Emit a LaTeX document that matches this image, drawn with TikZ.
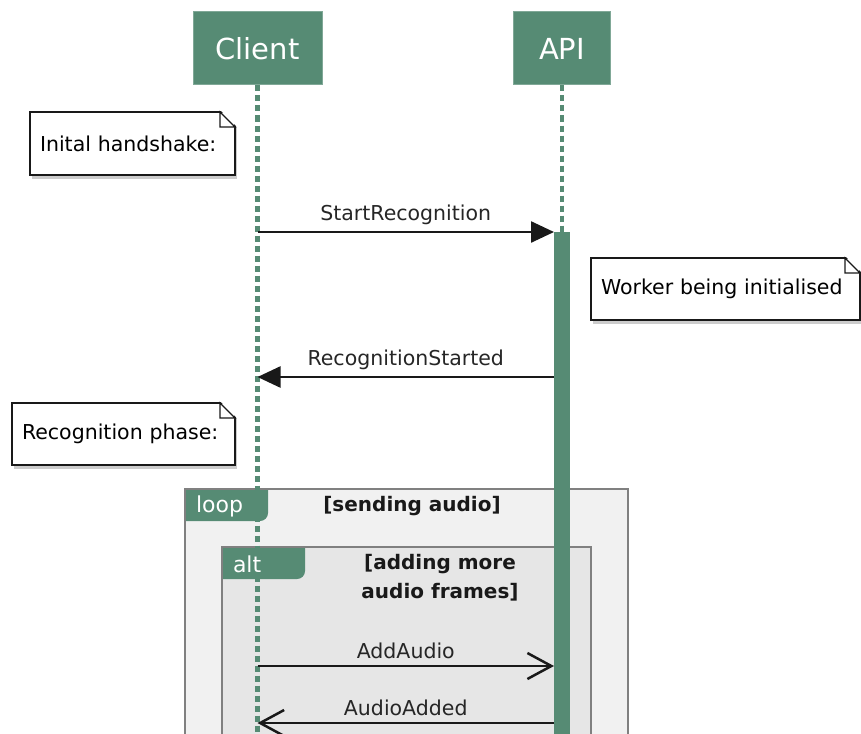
\documentclass[tikz,border=0pt]{standalone}
\usepackage{fontspec}
\setmainfont{DejaVu Sans}
\usetikzlibrary{arrows.meta,shadows}
\definecolor{seqgreen}{RGB}{86,139,116}
\definecolor{framegray}{RGB}{128,128,128}
\definecolor{loopfill}{RGB}{241,241,241}
\definecolor{altfill}{RGB}{230,230,230}
\tikzset{
  actor/.style={fill=seqgreen, draw=seqgreen!75!white, line width=1pt, text=white, font=\fontsize{29}{34}\selectfont, inner sep=0pt},
  lifeline/.style={seqgreen, line width=4.5pt, dash pattern=on 6pt off 4pt},
  note/.style={draw=black!90, fill=white, line width=1.5pt, outer sep=0pt, font=\fontsize{20.5}{24}\selectfont, align=left, inner xsep=10pt, inner ysep=0pt, drop shadow={shadow xshift=2pt, shadow yshift=-4pt, opacity=.4}},
  fold/.style={draw=black!90, fill=white, line width=1.2pt},
  msg/.style={line width=2.5pt, black!90},
  synch/.style={msg, -{Triangle[length=23pt,width=21pt]}},
  asynch/.style={msg, -{Straight Barb[length=24pt,width=26pt]}},
  msglabel/.style={font=\fontsize{20.5}{24}\selectfont, text=black!85, above=3pt},
  frame/.style={draw=framegray, line width=2pt, inner sep=0pt, outer sep=0pt},
  tag/.style={text=white, font=\fontsize{22}{26}\selectfont, align=left, inner xsep=10pt, inner ysep=0pt, minimum height=32pt, outer sep=0pt},
  guard/.style={font=\bfseries\fontsize{20}{29}\selectfont, align=center, text=black!90},
}
\newcommand{\notefold}[1]{%
  \fill[white] ([xshift=-15pt,yshift=2pt]#1.north east) -- ([shift={(2pt,2pt)}]#1.north east) -- ([xshift=2pt,yshift=-15pt]#1.north east) -- cycle;
  \draw[fold] ([xshift=-15pt]#1.north east) |- ([yshift=-15pt]#1.north east) -- cycle;}

\begin{document}
\begin{tikzpicture}[x=1pt, y=1pt]
\useasboundingbox (0,0) rectangle (861,-733);
\clip (0,0) rectangle (861,-733);

\node[frame, fill=loopfill, minimum width=443pt, minimum height=270pt, anchor=north west] (loop) at (185,-489) {};
\node[frame, fill=altfill, minimum width=369pt, minimum height=210pt, anchor=north west] (alt) at (222,-547) {};

\node[actor, minimum width=129pt, minimum height=73pt] (client) at (257.5,-48.5) {Client};
\node[actor, minimum width=97pt, minimum height=73pt] (api) at (562,-48.5) {API};

\node[fill=seqgreen, minimum width=16pt, minimum height=520pt, inner sep=0pt, outer sep=0pt, anchor=north] (act) at (api.south |- 0,-232) {};
\coordinate (clientend) at (client.south |- 0,-745);
\draw[lifeline] (client.south) -- (clientend);
\draw[lifeline] (api.south) -- (act.north);

\fill[seqgreen] ([shift={(1,-1)}]loop.north west) -- ++(82,0) -- ++(0,-23) arc[start angle=0, end angle=-90, radius=8] -- ++(-74,0) -- cycle;
\node[tag, text width=63pt, anchor=north west] (looptag) at ([shift={(1,-1)}]loop.north west) {loop};
\node[guard] (loopguard) at (412,-506) {[sending audio]};
\fill[seqgreen] ([shift={(1,-1)}]alt.north west) -- ++(82,0) -- ++(0,-23) arc[start angle=0, end angle=-90, radius=8] -- ++(-74,0) -- cycle;
\node[tag, text width=63pt, anchor=north west] (alttag) at ([shift={(1,-1)}]alt.north west) {alt};
\node[guard] (altguard) at (440,-578) {[adding more\\audio frames]};

\node[note, text width=185pt, minimum height=63pt] (handshake) at (132.5,-143.5) {Inital handshake:};
\notefold{handshake}
\node[note, text width=249pt, minimum height=62pt] (worker) at (725.5,-289) {Worker being initialised};
\notefold{worker}
\node[note, text width=203pt, minimum height=62pt] (phase) at (123.5,-434) {Recognition phase:};
\notefold{phase}

\coordinate (m1) at (client.south |- 0,-232);
\coordinate (m2) at (client.south |- 0,-377);
\coordinate (m3) at (client.south |- 0,-666);
\coordinate (m4) at (client.south |- 0,-723);
\draw[synch] (m1) -- (m1 -| act.west) node[midway, msglabel]{StartRecognition};
\draw[synch] (m2 -| act.west) -- (m2) node[midway, msglabel]{RecognitionStarted};
\draw[asynch] (m3) -- (m3 -| act.west) node[midway, msglabel]{AddAudio};
\draw[asynch] (m4 -| act.west) -- (m4) node[midway, msglabel]{AudioAdded};
\end{tikzpicture}
\end{document}
